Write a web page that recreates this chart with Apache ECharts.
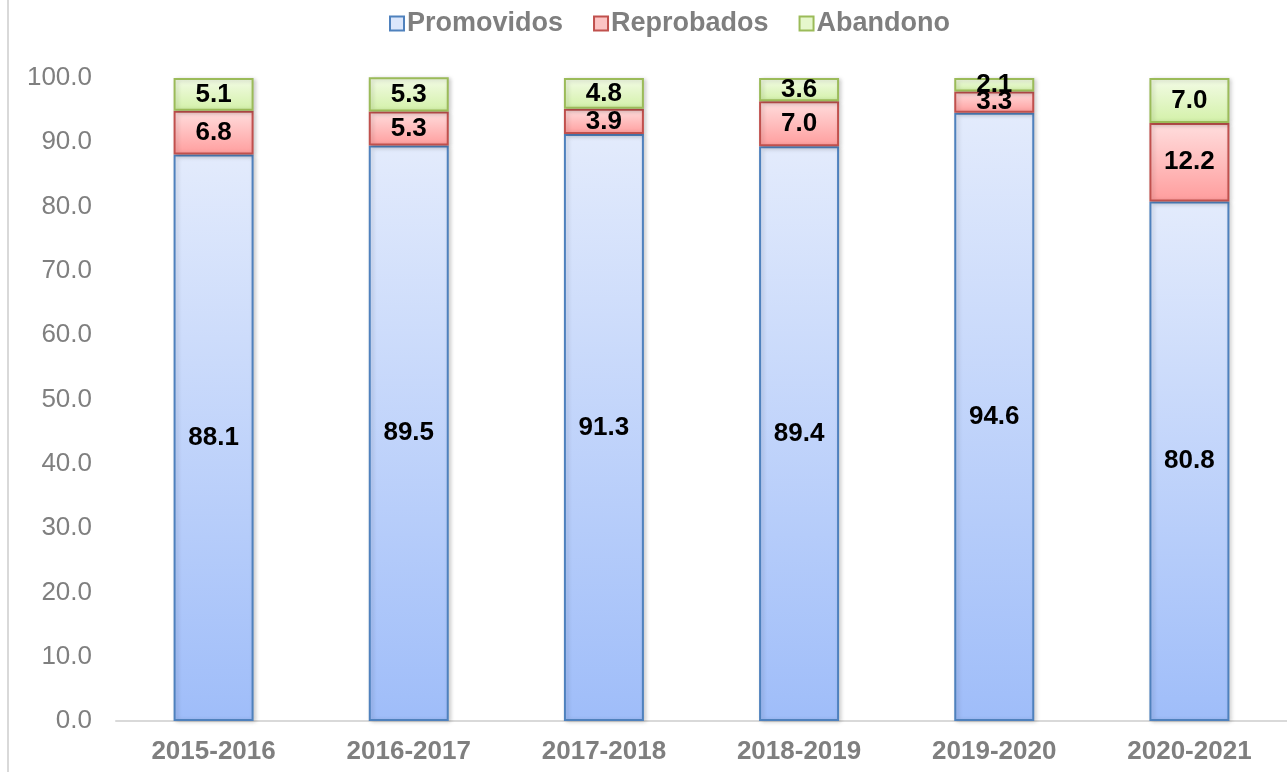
<!DOCTYPE html>
<html>
<head>
<meta charset="utf-8">
<script src="https://cdn.jsdelivr.net/npm/echarts@6/dist/echarts.min.js"></script>
<style>
  html, body { margin: 0; padding: 0; background: #fff; }
  #chart-container { width: 1287px; height: 772px; }
</style>
</head>
<body>
<div id="chart-container"></div>
<script>
const categories = ["2015-2016", "2016-2017", "2017-2018", "2018-2019", "2019-2020", "2020-2021"];
const promovidos = [88.1, 89.5, 91.3, 89.4, 94.6, 80.8];
const reprobados = [6.8, 5.3, 3.9, 7.0, 3.3, 12.2];
const abandono = [5.1, 5.3, 4.8, 3.6, 2.1, 7.0];

const chartDom = document.getElementById("chart-container");
const myChart = echarts.init(chartDom);

const grad = (top, bottom) =>
    new echarts.graphic.LinearGradient(0, 0, 0, 1, [
        { offset: 0, color: top },
        { offset: 1, color: bottom }
    ]);

const makeSeries = (name, data, top, bottom, border) => ({
    name: name,
    type: "bar",
    stack: "total",
    barWidth: 80,
    data: data,
    itemStyle: {
        color: grad(top, bottom),
        borderColor: border,
        borderWidth: 2,
        shadowColor: "rgba(0,0,0,0.18)",
        shadowBlur: 4,
        shadowOffsetX: 2,
        shadowOffsetY: 1
    },
    label: {
        show: true,
        position: "inside",
        formatter: p => p.value.toFixed(1),
        color: "#000",
        fontFamily: "Liberation Sans, Arial",
        fontWeight: "bold",
        fontSize: 26
    }
});

const option = {
    animation: false,
    textStyle: { fontFamily: "Liberation Sans, Arial" },
    legend: {
        top: 5,
        left: 384,
        itemWidth: 14,
        itemHeight: 14,
        itemGap: 30,
        icon: "rect",
        textStyle: {
            color: "#7f7f7f",
            fontWeight: "bold",
            fontSize: 27,
            padding: [0, 0, 0, -2],
            fontFamily: "Liberation Sans, Arial"
        },
        data: [
            { name: "Promovidos", itemStyle: { color: "#dbe6fb", borderColor: "#4f81bd", borderWidth: 2 } },
            { name: "Reprobados", itemStyle: { color: "#fcc4c4", borderColor: "#c0504d", borderWidth: 2 } },
            { name: "Abandono", itemStyle: { color: "#e6f7cc", borderColor: "#9bbb59", borderWidth: 2 } }
        ]
    },
    grid: { left: 116, right: 0, top: 78, bottom: 51 },
    xAxis: {
        type: "category",
        data: categories,
        axisLine: { show: true, lineStyle: { color: "#d9d9d9", width: 2 } },
        axisTick: { show: false },
        axisLabel: {
            color: "#7f7f7f",
            fontWeight: "bold",
            fontSize: 26,
            margin: 18
        }
    },
    yAxis: {
        type: "value",
        min: 0,
        max: 100,
        interval: 10,
        axisLine: { show: false },
        axisTick: { show: false },
        splitLine: { show: false },
        axisLabel: {
            color: "#7f7f7f",
            fontSize: 26,
            margin: 24,
            formatter: v => v.toFixed(1)
        }
    },
    graphic: [
        { type: "line", shape: { x1: 8, y1: 0, x2: 8, y2: 772 }, style: { stroke: "#d9d9d9", lineWidth: 2 } }
    ],
    series: [
        makeSeries("Promovidos", promovidos, "#e3ebfc", "#9fbdf9", "#4f81bd"),
        makeSeries("Reprobados", reprobados, "#ffdede", "#ff9d9d", "#c0504d"),
        makeSeries("Abandono", abandono, "#f3fbe6", "#d3f1a8", "#9bbb59")
    ]
};

myChart.setOption(option);
</script>
</body>
</html>
